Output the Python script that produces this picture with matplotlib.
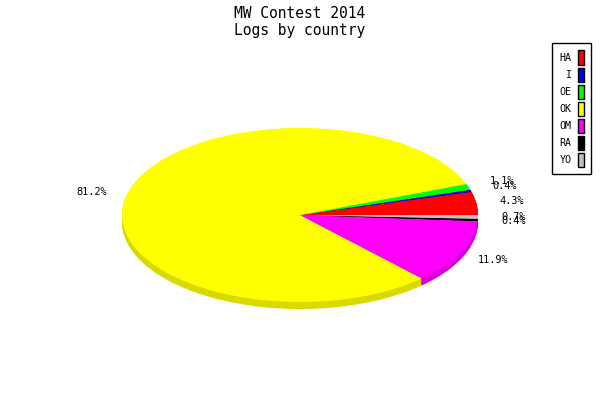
import matplotlib
matplotlib.use("Agg")
import numpy as np
import matplotlib.pyplot as plt
from matplotlib.patches import Patch
from matplotlib.colors import to_rgb

# ---------------------------------------------------------
# DATOS
# ---------------------------------------------------------
paises = ["HA", "I", "OE", "OK", "OM", "RA", "YO"]
porcentajes = [4.3, 0.4, 1.1, 81.2, 11.9, 0.4, 0.7]
colores = ["#ff0000", "#0000ff", "#00ff00", "#ffff00", "#ff00ff", "#000000", "#c0c0c0"]

# ---------------------------------------------------------
# FIGURA
# ---------------------------------------------------------
fig = plt.figure(figsize=(6, 4), dpi=100)
fig.patch.set_facecolor("white")

# ejes colocados para que el radio 1 sea la elipse de la tarta
ax = fig.add_axes([122 / 600, 98 / 400, 356 / 600, 174 / 400])

fuente = "DejaVu Sans Mono"

# lado 3D (mas oscuro), apilado hacia abajo
oscuros = [tuple(c * 0.85 for c in to_rgb(col)) for col in colores]
profundidad = 7 / 87
for d in np.linspace(profundidad, 0.005, 10):
    ax.pie(porcentajes, colors=oscuros, startangle=0, counterclock=True,
           center=(0, -d), wedgeprops=dict(linewidth=0))

# cara superior
ax.pie(porcentajes, colors=colores, startangle=0, counterclock=True,
       autopct="%.1f%%", pctdistance=1.2,
       wedgeprops=dict(linewidth=0),
       textprops=dict(family=fuente, fontsize=7.4, color="black"))

ax.set_aspect("auto")
ax.set_xlim(-1, 1)
ax.set_ylim(-1, 1)
ax.axis("off")

# ---------------------------------------------------------
# TITULO
# ---------------------------------------------------------
fig.text(0.5, 1 - 13 / 400, "MW Contest 2014", ha="center", va="center",
         family=fuente, fontsize=10.5)
fig.text(0.5, 1 - 31 / 400, "Logs by country", ha="center", va="center",
         family=fuente, fontsize=10.5)

# ---------------------------------------------------------
# LEYENDA
# ---------------------------------------------------------
manejadores = [Patch(facecolor=c, edgecolor="black", linewidth=1) for c in colores]
leyenda = fig.legend(manejadores, paises, loc="upper right",
                     bbox_to_anchor=(591 / 600, 1 - 43 / 400),
                     markerfirst=False, fancybox=False, framealpha=1,
                     edgecolor="black", borderaxespad=0,
                     prop=dict(family=fuente, size=7.2),
                     handlelength=0.6, handleheight=1.78, labelspacing=0.3,
                     handletextpad=0.6, borderpad=0.75)
leyenda.get_frame().set_linewidth(1)

plt.savefig("out.png", dpi=100)
